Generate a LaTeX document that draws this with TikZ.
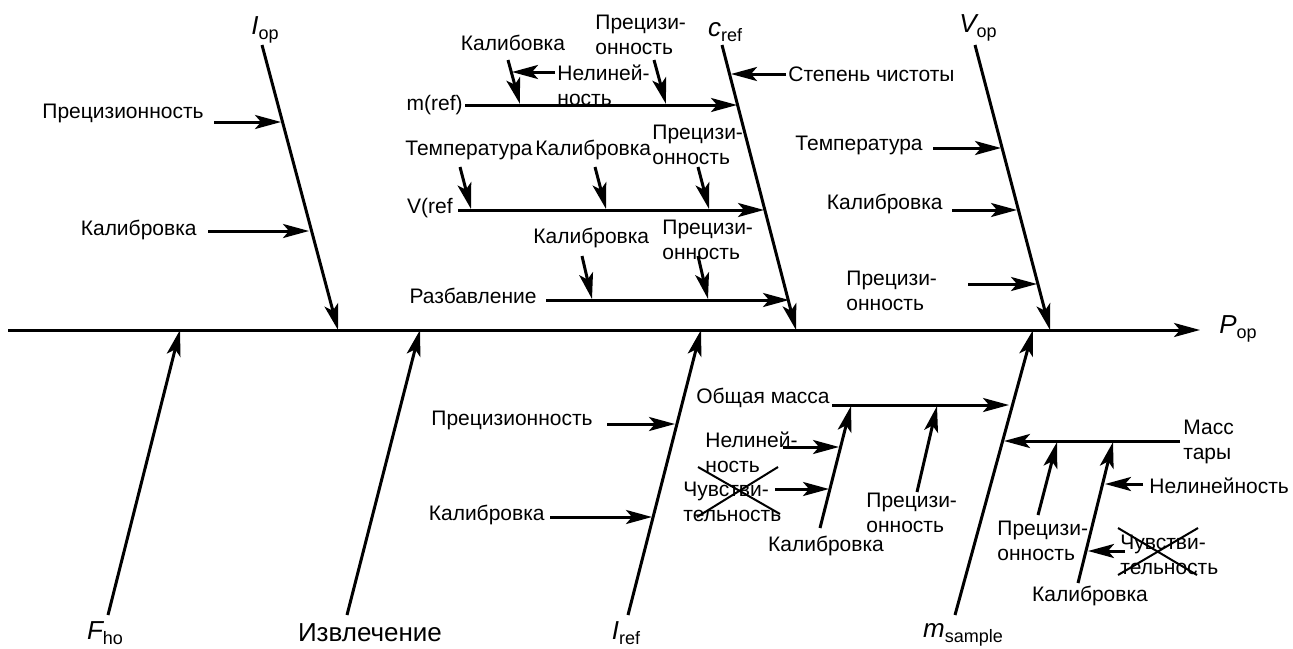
\documentclass[tikz,border=0pt]{standalone}
\usepackage{fontspec}
\setmainfont{Liberation Sans}
\usetikzlibrary{arrows.meta}
\newcommand\symlbl[2]{{\fontsize{13}{15}\selectfont\itshape #1}\raisebox{-0.45ex}{\fontsize{9}{10}\selectfont #2}}
\tikzset{
  bone/.style={line width=1.5pt},
  arr/.style={line width=1.5pt,-{Stealth[length=13pt,width=7pt,inset=3pt]}},
  cross/.style={line width=1pt},
  lbl/.style={inner sep=0pt,font=\fontsize{10.5}{12.5}\selectfont,align=left},
  big/.style={inner sep=0pt,font=\fontsize{13}{15}\selectfont},
}
\begin{document}
\begin{tikzpicture}[x=0.5pt,y=-0.5pt]
\useasboundingbox (0,0) rectangle (1293,648);
% ---------- spine ----------
\coordinate (s0) at (8,330);
\coordinate (s1) at (1200,330);
\draw[arr] (s0) -- (s1);
\node[inner sep=0pt] (pop) at (1238,329) {\symlbl{P}{op}};
% ---------- I_op ----------
\coordinate (iopA) at (262,45);
\coordinate (iopB) at (338,330);
\draw[arr] (iopA) -- (iopB);
\node[inner sep=0pt] (iop) at (265,30) {\symlbl{I}{op}};
\node[lbl,anchor=east] (iopP) at (204,113) {Прецизионность};
\coordinate (iopPa) at (214,122); \coordinate (iopPb) at (281,122);
\draw[arr] (iopPa) -- (iopPb);
\node[lbl,anchor=east] (iopK) at (197,230) {Калибровка};
\coordinate (iopKa) at (208,231); \coordinate (iopKb) at (309,231);
\draw[arr] (iopKa) -- (iopKb);
% ---------- c_ref ----------
\coordinate (crefA) at (722,45);
\coordinate (crefB) at (796,330);
\draw[arr] (crefA) -- (crefB);
\node[inner sep=0pt] (cref) at (725,32) {\symlbl{c}{ref}};
\node[lbl,anchor=west] (stch) at (788,74) {Степень чистоты};
\coordinate (stchA) at (786,74); \coordinate (stchB) at (731,74);
\draw[arr] (stchA) -- (stchB);
% m(ref)
\node[lbl,anchor=east] (mref) at (463,105) {m(ref)};
\coordinate (mrefA) at (465,105); \coordinate (mrefB) at (737,105);
\draw[arr] (mrefA) -- (mrefB);
\node[lbl] (mrefK) at (513,43) {Калибовка};
\coordinate (mrefKa) at (508,60); \coordinate (mrefKb) at (520,104);
\draw[arr] (mrefKa) -- (mrefKb);
\node[lbl,anchor=west] (mrefN) at (557,85) {Нелиней-\\ность};
\coordinate (mrefNa) at (555,72); \coordinate (mrefNb) at (512,72);
\draw[arr] (mrefNa) -- (mrefNb);
\node[lbl,anchor=west] (mrefP) at (595,35) {Прецизи-\\онность};
\coordinate (mrefPa) at (654,60); \coordinate (mrefPb) at (666,104);
\draw[arr] (mrefPa) -- (mrefPb);
% V(ref
\node[lbl,anchor=east] (vref) at (453,208) {V(ref};
\coordinate (vrefA) at (458,210); \coordinate (vrefB) at (764,210);
\draw[arr] (vrefA) -- (vrefB);
\node[lbl,anchor=west] (vrefT) at (405,150) {Температура};
\coordinate (vrefTa) at (460,167); \coordinate (vrefTb) at (471,209);
\draw[arr] (vrefTa) -- (vrefTb);
\node[lbl,anchor=west] (vrefK) at (535,150) {Калибровка};
\coordinate (vrefKa) at (595,167); \coordinate (vrefKb) at (606,209);
\draw[arr] (vrefKa) -- (vrefKb);
\node[lbl,anchor=west] (vrefP) at (652,145) {Прецизи-\\онность};
\coordinate (vrefPa) at (698,167); \coordinate (vrefPb) at (709,209);
\draw[arr] (vrefPa) -- (vrefPb);
% Разбавление
\node[lbl,anchor=east] (razb) at (537,296) {Разбавление};
\coordinate (razbA) at (546,300); \coordinate (razbB) at (789,300);
\draw[arr] (razbA) -- (razbB);
\node[lbl,anchor=west] (razbK) at (533,238) {Калибровка};
\coordinate (razbKa) at (582,256); \coordinate (razbKb) at (592,299);
\draw[arr] (razbKa) -- (razbKb);
\node[lbl,anchor=west] (razbP) at (662,240) {Прецизи-\\онность};
\coordinate (razbPa) at (698,256); \coordinate (razbPb) at (708,299);
\draw[arr] (razbPa) -- (razbPb);
% ---------- V_op ----------
\coordinate (vopA) at (975,45);
\coordinate (vopB) at (1050,330);
\draw[arr] (vopA) -- (vopB);
\node[inner sep=0pt] (vop) at (978,28) {\symlbl{V}{op}};
\node[lbl,anchor=east] (vopT) at (923,145) {Температура};
\coordinate (vopTa) at (933,148); \coordinate (vopTb) at (1001,148);
\draw[arr] (vopTa) -- (vopTb);
\node[lbl,anchor=east] (vopK) at (943,204) {Калибровка};
\coordinate (vopKa) at (952,210); \coordinate (vopKb) at (1017,210);
\draw[arr] (vopKa) -- (vopKb);
\node[lbl,anchor=west] (vopP) at (846,291) {Прецизи-\\онность};
\coordinate (vopPa) at (968,284); \coordinate (vopPb) at (1037,284);
\draw[arr] (vopPa) -- (vopPb);
% ---------- F_ho ----------
\coordinate (fhoA) at (108,615);
\coordinate (fhoB) at (180,330);
\draw[arr] (fhoA) -- (fhoB);
\node[inner sep=0pt] (fho) at (105,633) {\symlbl{F}{ho}};
% ---------- Извлечение ----------
\coordinate (izvA) at (347,615);
\coordinate (izvB) at (420,330);
\draw[arr] (izvA) -- (izvB);
\node[big] (izv) at (370,633) {Извлечение};
% ---------- I_ref ----------
\coordinate (irefA) at (628,615);
\coordinate (irefB) at (701,330);
\draw[arr] (irefA) -- (irefB);
\node[inner sep=0pt] (iref) at (626,633) {\symlbl{I}{ref}};
\node[lbl,anchor=east] (irefP) at (593,420) {Прецизионность};
\coordinate (irefPa) at (607,424); \coordinate (irefPb) at (675,424);
\draw[arr] (irefPa) -- (irefPb);
\node[lbl,anchor=east] (irefK) at (545,515) {Калибровка};
\coordinate (irefKa) at (550,517); \coordinate (irefKb) at (652,517);
\draw[arr] (irefKa) -- (irefKb);
% ---------- m_sample ----------
\coordinate (msA) at (955,615);
\coordinate (msB) at (1033,330);
\draw[arr] (msA) -- (msB);
\node[inner sep=0pt] (ms) at (963,635) {\symlbl{m}{sample}};
% Общая масса
\node[lbl,anchor=east] (om) at (830,398) {Общая масса};
\coordinate (omA) at (832,405); \coordinate (omB) at (1009,405);
\draw[arr] (omA) -- (omB);
\coordinate (omKa) at (820,528); \coordinate (omKb) at (851,406);
\draw[arr] (omKa) -- (omKb);
\node[lbl] (omK) at (826,546) {Калибровка};
\node[lbl,anchor=west] (omN) at (705,452) {Нелиней-\\ность};
\coordinate (omNa) at (783,447); \coordinate (omNb) at (839,447);
\draw[arr] (omNa) -- (omNb);
\node[lbl,anchor=west] (omCh) at (683,502) {Чувстви-\\тельность};
\coordinate (omCha) at (775,489); \coordinate (omChb) at (829,489);
\draw[arr] (omCha) -- (omChb);
\coordinate (x1a) at (698,467); \coordinate (x1b) at (780,514);
\coordinate (x2a) at (697,517); \coordinate (x2b) at (778,467);
\draw[cross] (x1a) -- (x1b);
\draw[cross] (x2a) -- (x2b);
\node[lbl,anchor=west] (omP) at (866,513) {Прецизи-\\онность};
\coordinate (omPa) at (917,492); \coordinate (omPb) at (937,406);
\draw[arr] (omPa) -- (omPb);
% Масс тары
\node[lbl,anchor=west] (mt) at (1183,442) {Масс\\тары};
\coordinate (mtA) at (1180,441); \coordinate (mtB) at (1004,441);
\draw[arr] (mtA) -- (mtB);
\coordinate (mtPa) at (1038,515); \coordinate (mtPb) at (1057,442);
\draw[arr] (mtPa) -- (mtPb);
\node[lbl,anchor=west] (mtP) at (997,541) {Прецизи-\\онность};
\coordinate (mtKa) at (1078,583); \coordinate (mtKb) at (1113,442);
\draw[arr] (mtKa) -- (mtKb);
\node[lbl] (mtK) at (1090,596) {Калибровка};
\node[lbl,anchor=west] (mtN) at (1149,486) {Нелинейность};
\coordinate (mtNa) at (1143,484); \coordinate (mtNb) at (1105,484);
\draw[arr] (mtNa) -- (mtNb);
\node[lbl,anchor=west] (mtCh) at (1120,555) {Чувстви-\\тельность};
\coordinate (mtCha) at (1125,551); \coordinate (mtChb) at (1088,551);
\draw[arr] (mtCha) -- (mtChb);
\coordinate (x3a) at (1118,528); \coordinate (x3b) at (1197,575);
\coordinate (x4a) at (1118,575); \coordinate (x4b) at (1198,528);
\draw[cross] (x3a) -- (x3b);
\draw[cross] (x4a) -- (x4b);
\end{tikzpicture}
\end{document}
